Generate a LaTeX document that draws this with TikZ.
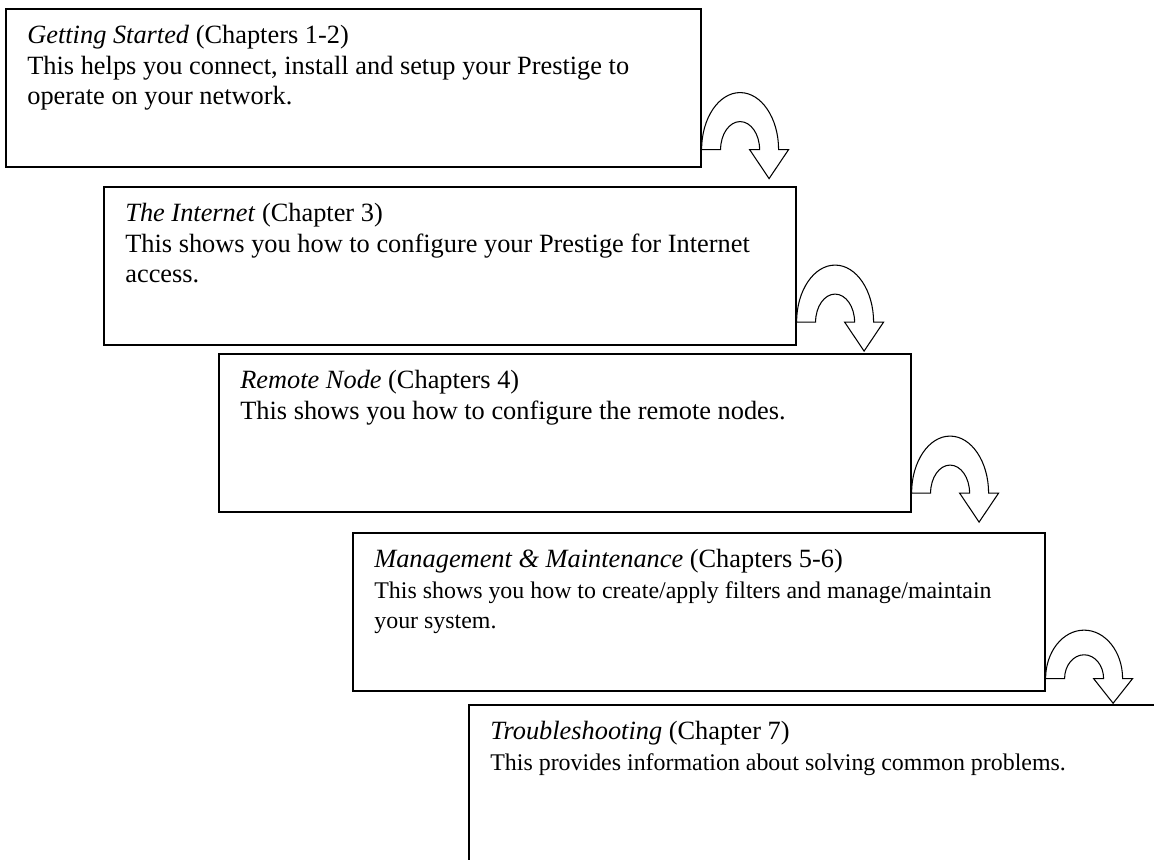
\documentclass[tikz,border=0pt]{standalone}
\usepackage{fontspec}
\setmainfont{Liberation Serif}
\usetikzlibrary{calc}

\newcommand{\smalltext}{\fontsize{13.6}{15.6}\selectfont}
\tikzset{
	chapbox/.style = {draw, line width = 0.9pt, anchor = north west, inner sep = 0pt,
		minimum width = 138.4mm, minimum height = 31.6mm},
	chaptext/.style = {anchor = north west, inner sep = 0pt, align = left,
		font = \fontsize{15}{17.3}\selectfont, xshift = 4.4mm, yshift = -3.4mm},
	turnarrow/.style = {draw, line width = 0.6pt, fill = white}
}

\begin{document}
\begin{tikzpicture}[x = 0.2mm, y = 0.2mm]
	\clip (0,0) rectangle (1154,-860);
	% the five chapter boxes
	\node[chapbox, minimum width = 139mm] (start) at (5,-8) {};
	\node[chapbox] (internet) at (103,-186) {};
	\node[chapbox] (remote) at (218,-353) {};
	\node[chapbox] (manage) at (352,-532) {};
	\node[chapbox, minimum height = 40mm] (trouble) at (468,-704) {};

	\node[chaptext] (starttext) at (start.north west) {\textit{Getting Started} (Chapters 1-2)\\
		This helps you connect, install and setup your Prestige to\\
		operate on your network.};
	\node[chaptext] (internettext) at (internet.north west) {\textit{The Internet} (Chapter 3)\\
		This shows you how to configure your Prestige for Internet\\
		access.};
	\node[chaptext] (remotetext) at (remote.north west) {\textit{Remote Node} (Chapters 4)\\
		This shows you how to configure the remote nodes.};
	\node[chaptext] (managetext) at (manage.north west) {\textit{Management \& Maintenance} (Chapters 5-6)\\
		{\smalltext This shows you how to create/apply filters and manage/maintain}\\
		{\smalltext your system.}};
	\node[chaptext] (troubletext) at (trouble.north west) {\textit{Troubleshooting} (Chapter 7)\\
		{\smalltext This provides information about solving common problems.}};

	% u-turn arrows from one box down to the next
	\foreach \from/\lift/\squash in {start/18/1, internet/23.5/1, remote/19.5/1, manage/13/0.85} {
		\begin{scope}[shift = {($(\from.south east)+(0,\lift)$)}, yscale = \squash]
			\draw[turnarrow] (0,0) arc[start angle = 180, end angle = 0, x radius = 38.5, y radius = 57]
				-- (87,0) -- (67.5,-29) -- (48,0) -- (58,0)
				arc[start angle = 0, end angle = 180, x radius = 19.5, y radius = 28] -- cycle;
		\end{scope}
	}
\end{tikzpicture}
\end{document}
